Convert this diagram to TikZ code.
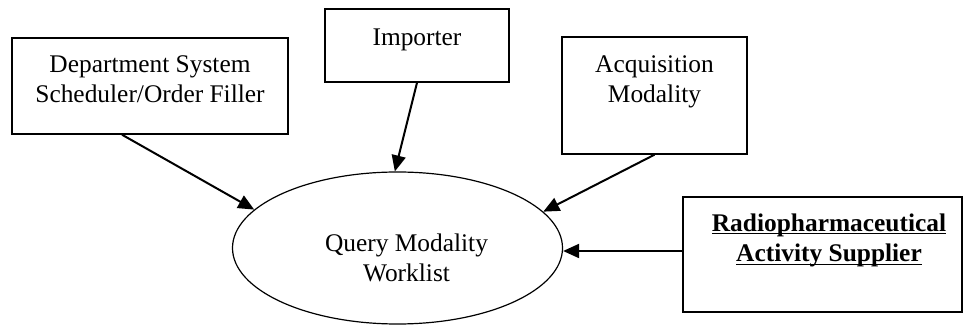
\documentclass[tikz,border=0pt]{standalone}
\usepackage{fontspec}
\setmainfont{Liberation Serif}
\usetikzlibrary{arrows.meta,shapes.geometric}
\newcommand\ulined[1]{\underline{\raisebox{0pt}[\height][0pt]{#1}}}
\tikzset{
  box/.style={draw,line width=0.7pt,rectangle,inner sep=0pt},
  txt/.style={anchor=north,align=center,inner sep=0pt,
    font=\fontsize{12.7pt}{15.2pt}\selectfont},
  arr/.style={-{Triangle[length=8pt,width=7pt]},line width=1pt}
}
\begin{document}
\begin{tikzpicture}[x=0.5pt,y=-0.5pt]
  \useasboundingbox (0,0) rectangle (963,325);
  % boxes
  \node[box,minimum width=138pt,minimum height=48pt] (dss) at (150,86) {};
  \node[box,minimum width=92pt,minimum height=36.5pt] (imp) at (417,45.5) {};
  \node[box,minimum width=92.5pt,minimum height=58.5pt] (acq) at (654.5,95.5) {};
  \node[box,minimum width=139.5pt,minimum height=57.5pt] (ras) at (822.5,254.5) {};
  \node[draw,ellipse,line width=0.6pt,minimum width=165pt,minimum height=76pt,
    inner sep=0pt] (qmw) at (397.5,248) {};
  % texts
  \node[txt] (dsstxt) at (150,55) {Department System\\Scheduler/Order Filler};
  \node[txt] (imptxt) at (417,28) {Importer};
  \node[txt] (acqtxt) at (654.5,55) {Acquisition\\Modality};
  \node[txt,font=\fontsize{12.7pt}{15.4pt}\selectfont\bfseries] (rastxt) at (829,213)
    {\ulined{Radiopharmaceutical}\\\ulined{Activity Supplier}};
  \node[txt] (qmwtxt) at (406.5,233) {Query Modality\\Worklist};
  % transactions
  \draw[arr] ([xshift=-14pt]dss.south) -- (qmw.165.7);
  \draw[arr] (imp.south) -- (qmw.92.8);
  \draw[arr] (acq.south) -- (qmw.14.0);
  \draw[arr] ([yshift=1.75pt]ras.west) -- ([yshift=1.75pt]ras.west -| qmw.east);
\end{tikzpicture}
\end{document}
